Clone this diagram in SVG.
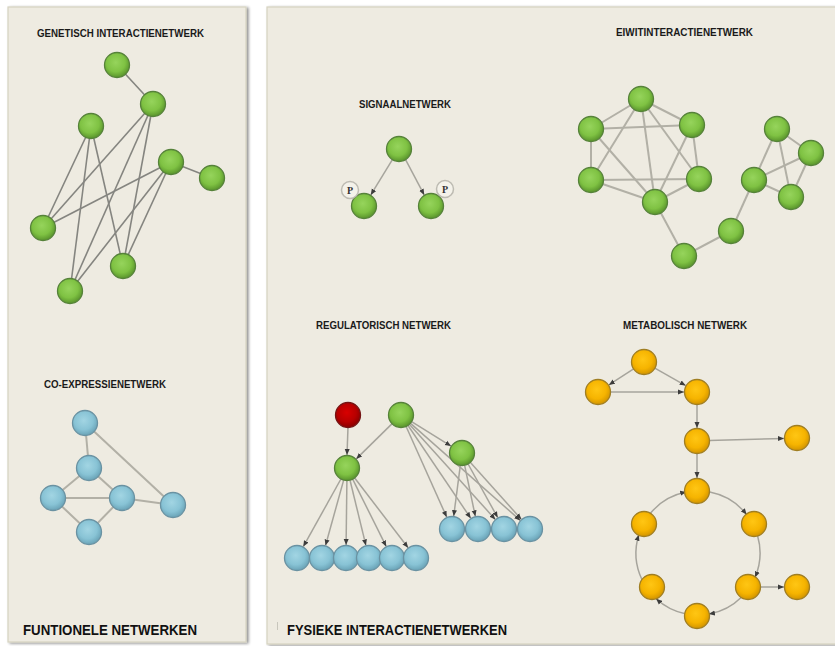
<svg xmlns="http://www.w3.org/2000/svg" width="835" height="646" viewBox="0 0 835 646">
<defs>
<radialGradient id="gG" cx="45%" cy="40%" r="62%"><stop offset="0" stop-color="#96d45c"/><stop offset="0.6" stop-color="#7fc243"/><stop offset="1" stop-color="#56902a"/></radialGradient>
<radialGradient id="gB" cx="45%" cy="40%" r="62%"><stop offset="0" stop-color="#a2d5e3"/><stop offset="0.6" stop-color="#88c3d5"/><stop offset="1" stop-color="#67a0b4"/></radialGradient>
<radialGradient id="gO" cx="45%" cy="40%" r="62%"><stop offset="0" stop-color="#ffc614"/><stop offset="0.6" stop-color="#f6b400"/><stop offset="1" stop-color="#cf9200"/></radialGradient>
<radialGradient id="gR" cx="45%" cy="40%" r="62%"><stop offset="0" stop-color="#d80000"/><stop offset="0.6" stop-color="#b80000"/><stop offset="1" stop-color="#860000"/></radialGradient>
<filter id="sh" x="-5%" y="-5%" width="112%" height="110%"><feGaussianBlur in="SourceAlpha" stdDeviation="1.5"/><feOffset dx="2" dy="1"/><feComponentTransfer><feFuncA type="linear" slope="0.45"/></feComponentTransfer><feMerge><feMergeNode/><feMergeNode in="SourceGraphic"/></feMerge></filter>
<marker id="ar" viewBox="0 0 6 6" refX="6" refY="3" markerWidth="6" markerHeight="6" markerUnits="userSpaceOnUse" orient="auto"><path d="M0,0.5 L6,3 L0,5.5 z" fill="#3c3c3c"/></marker>
<style>
.panel{fill:#eeebe1;stroke:#d6d3c0;stroke-width:1.2}
.g{fill:url(#gG);stroke:#56823a;stroke-width:1.3}
.b{fill:url(#gB);stroke:#6a92a2;stroke-width:1.3}
.o{fill:url(#gO);stroke:#a07e22;stroke-width:1.3}
.r{fill:url(#gR);stroke:#741414;stroke-width:1.3}
.gen{stroke:#858580;stroke-width:1.6;fill:none}
.e{stroke:#b2b0a6;stroke-width:2;fill:none}
.a{stroke:#a6a49c;stroke-width:1.5;fill:none;marker-end:url(#ar)}
.lbl{font-family:"Liberation Sans",Arial,sans-serif;font-weight:bold;font-size:11px;fill:#1a1a1a}
.ttl{font-family:"Liberation Sans",Arial,sans-serif;font-weight:bold;font-size:15.5px;fill:#111}
.pc{fill:#f4f2ea;stroke:#bdbbb2;stroke-width:1.5}
.pt{font-family:"Liberation Serif","Times New Roman",serif;font-weight:bold;font-size:10px;fill:#333}
</style>
</defs>
<rect width="835" height="646" fill="#ffffff"/>
<rect class="panel" x="8" y="7" width="238" height="635" filter="url(#sh)"/>
<rect class="panel" x="267" y="7" width="570" height="637" filter="url(#sh)"/>
<line x1="277.5" y1="622" x2="277.5" y2="630" stroke="#c8c6bc" stroke-width="1"/>

<text class="lbl" x="37" y="37" textLength="167" lengthAdjust="spacingAndGlyphs">GENETISCH INTERACTIENETWERK</text>
<text class="lbl" x="44" y="388" textLength="122" lengthAdjust="spacingAndGlyphs">CO-EXPRESSIENETWERK</text>
<text class="ttl" x="23" y="635" textLength="174" lengthAdjust="spacingAndGlyphs">FUNTIONELE NETWERKEN</text>
<text class="lbl" x="359" y="108" textLength="92" lengthAdjust="spacingAndGlyphs">SIGNAALNETWERK</text>
<text class="lbl" x="616" y="36" textLength="137" lengthAdjust="spacingAndGlyphs">EIWITINTERACTIENETWERK</text>
<text class="lbl" x="316" y="329" textLength="135" lengthAdjust="spacingAndGlyphs">REGULATORISCH NETWERK</text>
<text class="lbl" x="623" y="329" textLength="124" lengthAdjust="spacingAndGlyphs">METABOLISCH NETWERK</text>
<text class="ttl" x="287" y="635" textLength="220" lengthAdjust="spacingAndGlyphs">FYSIEKE INTERACTIENETWERKEN</text>

<g id="connectors">
<line class="gen" x1="117" y1="65" x2="153" y2="104"/>
<line class="gen" x1="171" y1="162" x2="212" y2="178"/>
<line class="gen" x1="91" y1="126" x2="43" y2="228"/>
<line class="gen" x1="91" y1="126" x2="123" y2="266"/>
<line class="gen" x1="91" y1="126" x2="70" y2="291"/>
<line class="gen" x1="153" y1="104" x2="43" y2="228"/>
<line class="gen" x1="153" y1="104" x2="123" y2="266"/>
<line class="gen" x1="153" y1="104" x2="70" y2="291"/>
<line class="gen" x1="171" y1="162" x2="43" y2="228"/>
<line class="gen" x1="171" y1="162" x2="123" y2="266"/>
<line class="gen" x1="171" y1="162" x2="70" y2="291"/>
<line class="e" x1="85" y1="423" x2="89" y2="468"/>
<line class="e" x1="85" y1="423" x2="173" y2="505"/>
<line class="e" x1="89" y1="468" x2="53" y2="498"/>
<line class="e" x1="89" y1="468" x2="122" y2="498"/>
<line class="e" x1="53" y1="498" x2="122" y2="498"/>
<line class="e" x1="53" y1="498" x2="89" y2="532"/>
<line class="e" x1="122" y1="498" x2="89" y2="532"/>
<line class="e" x1="122" y1="498" x2="173" y2="505"/>
<line class="a" x1="392.7" y1="159.2" x2="370.8" y2="194.9"/>
<line class="a" x1="405.3" y1="159.2" x2="424.2" y2="194.9"/>
<line class="e" x1="641" y1="99" x2="591" y2="129"/>
<line class="e" x1="641" y1="99" x2="692" y2="125"/>
<line class="e" x1="641" y1="99" x2="591" y2="180"/>
<line class="e" x1="641" y1="99" x2="655" y2="202"/>
<line class="e" x1="641" y1="99" x2="699" y2="179"/>
<line class="e" x1="591" y1="129" x2="692" y2="125"/>
<line class="e" x1="591" y1="129" x2="591" y2="180"/>
<line class="e" x1="591" y1="129" x2="655" y2="202"/>
<line class="e" x1="692" y1="125" x2="699" y2="179"/>
<line class="e" x1="692" y1="125" x2="655" y2="202"/>
<line class="e" x1="591" y1="180" x2="699" y2="179"/>
<line class="e" x1="591" y1="180" x2="655" y2="202"/>
<line class="e" x1="699" y1="179" x2="655" y2="202"/>
<line class="e" x1="655" y1="202" x2="684" y2="256"/>
<line class="e" x1="684" y1="256" x2="731" y2="231"/>
<line class="e" x1="731" y1="231" x2="754" y2="180"/>
<line class="e" x1="754" y1="180" x2="777" y2="129"/>
<line class="e" x1="754" y1="180" x2="811" y2="153"/>
<line class="e" x1="754" y1="180" x2="791" y2="197"/>
<line class="e" x1="777" y1="129" x2="811" y2="153"/>
<line class="e" x1="777" y1="129" x2="791" y2="197"/>
<line class="e" x1="811" y1="153" x2="791" y2="197"/>
<line class="a" x1="348" y1="427" x2="347" y2="455"/>
<line class="a" x1="392.4" y1="423.4" x2="356.3" y2="458.9"/>
<line class="a" x1="411.2" y1="421.3" x2="451" y2="446.1"/>
<line class="a" x1="341.2" y1="478.5" x2="303.3" y2="546.6"/>
<line class="a" x1="343.8" y1="479.6" x2="325.5" y2="545.5"/>
<line class="a" x1="346.9" y1="480" x2="346.1" y2="545"/>
<line class="a" x1="349.9" y1="479.7" x2="365.9" y2="545.4"/>
<line class="a" x1="352.4" y1="478.7" x2="386.2" y2="546.4"/>
<line class="a" x1="354.3" y1="477.5" x2="408.1" y2="547.7"/>
<line class="a" x1="405.9" y1="426" x2="446.7" y2="517.1"/>
<line class="a" x1="407.7" y1="425" x2="470.7" y2="518.2"/>
<line class="a" x1="409.1" y1="423.9" x2="495.3" y2="519.4"/>
<line class="a" x1="410" y1="422.9" x2="520.3" y2="520.4"/>
<line class="a" x1="460.4" y1="464.9" x2="453.7" y2="516.1"/>
<line class="a" x1="464.5" y1="464.7" x2="475.3" y2="516.3"/>
<line class="a" x1="467.8" y1="463.5" x2="497.7" y2="517.6"/>
<line class="a" x1="470" y1="461.9" x2="521.3" y2="519.3"/>
<line class="a" x1="634" y1="368.6" x2="608.9" y2="384.9"/>
<line class="a" x1="654.4" y1="367.9" x2="685.7" y2="385.6"/>
<line class="a" x1="610" y1="392" x2="684" y2="392"/>
<line class="a" x1="697" y1="404" x2="697" y2="428"/>
<line class="a" x1="709" y1="440.6" x2="784" y2="438.4"/>
<line class="a" x1="697" y1="453" x2="697" y2="478"/>
<line class="a" x1="760" y1="587" x2="784" y2="587"/>
<path class="a" d="M709.8,492.1 A62,62 0 0 1 746.6,514.5"/>
<path class="a" d="M757.5,535.5 A62,62 0 0 1 755,577.4"/>
<path class="a" d="M741.7,597 A62,62 0 0 1 708.9,614.1"/>
<path class="a" d="M685.2,613.7 A62,62 0 0 1 656.1,598.7"/>
<path class="a" d="M642,579.7 A62,62 0 0 1 638.8,534.7"/>
<path class="a" d="M650,513.8 A62,62 0 0 1 686.2,492.1"/>
</g>

<g id="gen1"><circle class="g" cx="117" cy="65" r="12.5"/></g>
<g id="gen2"><circle class="g" cx="153" cy="104" r="12.5"/></g>
<g id="gen3"><circle class="g" cx="91" cy="126" r="12.5"/></g>
<g id="gen4"><circle class="g" cx="171" cy="162" r="12.5"/></g>
<g id="gen5"><circle class="g" cx="212" cy="178" r="12.5"/></g>
<g id="gen6"><circle class="g" cx="43" cy="228" r="12.5"/></g>
<g id="gen7"><circle class="g" cx="123" cy="266" r="12.5"/></g>
<g id="gen8"><circle class="g" cx="70" cy="291" r="12.5"/></g>
<g id="co1"><circle class="b" cx="85" cy="423" r="12.5"/></g>
<g id="co2"><circle class="b" cx="89" cy="468" r="12.5"/></g>
<g id="co3"><circle class="b" cx="53" cy="498" r="12.5"/></g>
<g id="co4"><circle class="b" cx="122" cy="498" r="12.5"/></g>
<g id="co5"><circle class="b" cx="173" cy="505" r="12.5"/></g>
<g id="co6"><circle class="b" cx="89" cy="532" r="12.5"/></g>
<g id="sig1"><circle class="g" cx="399" cy="149" r="12.5"/></g>
<g id="sig2"><circle class="g" cx="364" cy="206" r="12.5"/><circle class="pc" cx="350" cy="190" r="8.5"/><text class="pt" x="350" y="193.5" text-anchor="middle">P</text></g>
<g id="sig3"><circle class="g" cx="431" cy="206" r="12.5"/><circle class="pc" cx="445" cy="189" r="8.5"/><text class="pt" x="445" y="192.5" text-anchor="middle">P</text></g>
<g id="p1"><circle class="g" cx="641" cy="99" r="12.5"/></g>
<g id="p2"><circle class="g" cx="591" cy="129" r="12.5"/></g>
<g id="p3"><circle class="g" cx="692" cy="125" r="12.5"/></g>
<g id="p4"><circle class="g" cx="591" cy="180" r="12.5"/></g>
<g id="p5"><circle class="g" cx="699" cy="179" r="12.5"/></g>
<g id="p6"><circle class="g" cx="655" cy="202" r="12.5"/></g>
<g id="p7"><circle class="g" cx="684" cy="256" r="12.5"/></g>
<g id="p8"><circle class="g" cx="731" cy="231" r="12.5"/></g>
<g id="p9"><circle class="g" cx="754" cy="180" r="12.5"/></g>
<g id="p10"><circle class="g" cx="777" cy="129" r="12.5"/></g>
<g id="p11"><circle class="g" cx="811" cy="153" r="12.5"/></g>
<g id="p12"><circle class="g" cx="791" cy="197" r="12.5"/></g>
<g id="reg-red"><circle class="r" cx="348" cy="415" r="12.5"/></g>
<g id="reg-g1"><circle class="g" cx="401" cy="415" r="12.5"/></g>
<g id="reg-g2"><circle class="g" cx="347" cy="468" r="12.5"/></g>
<g id="reg-g3"><circle class="g" cx="462" cy="453" r="12.5"/></g>
<g id="reg-b1"><circle class="b" cx="297" cy="558" r="12.5"/></g>
<g id="reg-b2"><circle class="b" cx="322" cy="558" r="12.5"/></g>
<g id="reg-b3"><circle class="b" cx="346" cy="558" r="12.5"/></g>
<g id="reg-b4"><circle class="b" cx="369" cy="558" r="12.5"/></g>
<g id="reg-b5"><circle class="b" cx="392" cy="558" r="12.5"/></g>
<g id="reg-b6"><circle class="b" cx="416" cy="558" r="12.5"/></g>
<g id="reg-b7"><circle class="b" cx="452" cy="529" r="12.5"/></g>
<g id="reg-b8"><circle class="b" cx="478" cy="529" r="12.5"/></g>
<g id="reg-b9"><circle class="b" cx="504" cy="529" r="12.5"/></g>
<g id="reg-b10"><circle class="b" cx="530" cy="529" r="12.5"/></g>
<g id="m1"><circle class="o" cx="644" cy="362" r="12.5"/></g>
<g id="m2"><circle class="o" cx="598" cy="392" r="12.5"/></g>
<g id="m3"><circle class="o" cx="697" cy="392" r="12.5"/></g>
<g id="m4"><circle class="o" cx="697" cy="441" r="12.5"/></g>
<g id="m5"><circle class="o" cx="797" cy="438" r="12.5"/></g>
<g id="m6"><circle class="o" cx="697" cy="491" r="12.5"/></g>
<g id="m7"><circle class="o" cx="754" cy="524" r="12.5"/></g>
<g id="m8"><circle class="o" cx="748" cy="587" r="12.5"/></g>
<g id="m9"><circle class="o" cx="797" cy="587" r="12.5"/></g>
<g id="m10"><circle class="o" cx="697" cy="616" r="12.5"/></g>
<g id="m11"><circle class="o" cx="652" cy="587" r="12.5"/></g>
<g id="m12"><circle class="o" cx="644" cy="524" r="12.5"/></g>
</svg>
